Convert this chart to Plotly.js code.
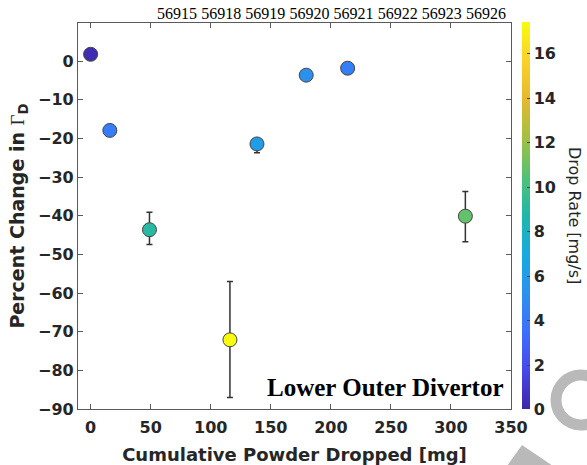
<!DOCTYPE html>
<html>
<head>
<meta charset="utf-8">
<script src="https://cdn.plot.ly/plotly-3.0.1.min.js"></script>
<style>
  html, body { margin: 0; padding: 0; background: #fff; }
  #chart { width: 587px; height: 465px; }
</style>
</head>
<body>
<div id="chart"></div>
<script>
// cumulative powder dropped [mg] and % change in Gamma_D per shot
const cumPowder = [0, 16, 49, 116, 138.5, 179.5, 214, 312];
const pctChange = [1.8, -17.9, -43.6, -72.1, -21.4, -3.6, -1.8, -40.1];
const errPlus   = [0, 0, 4.5, 15.1, 0.5, 0, 0, 6.4];
const errMinus  = [0, 0, 3.8, 14.9, 2.3, 0, 0, 6.6];
const dropRate  = [0.3, 4.2, 9, 17.4, 6, 5.2, 4.3, 10.8];
const shots = ['56915','56918','56919','56920','56921','56922','56923','56926'];

// MATLAB parula (approx.)
const PARULA = [
  [0.0, '#3e26a8'], [0.1, '#4748ea'], [0.2, '#3d6ffd'], [0.3, '#2c91ee'],
  [0.4, '#17aade'], [0.5, '#1fb7ab'], [0.6, '#52c274'], [0.7, '#a2c042'],
  [0.8, '#e4b92e'], [0.9, '#fbd12a'], [1.0, '#f9fb0e']
];

const SANS = 'DejaVu Sans, Liberation Sans, sans-serif';
const SERIF = 'Liberation Serif, Times New Roman, serif';
const FRAME = '#5a5a5a';
const TXT = '#262626';

// plot box in px, used to place the decorations
const L = 78, R = 511, T = 23, B = 409;
const px = x => (x - L) / (R - L);
const py = y => (B - y) / (B - T);

const baseAxis = {
  showline: true, linecolor: FRAME, linewidth: 1.2, mirror: 'ticks',
  ticks: 'inside', ticklen: 5, tickcolor: FRAME, tickwidth: 1,
  showgrid: false, zeroline: false,
  tickfont: { family: SANS, size: 16, color: TXT, weight: 'bold' },
};

Plotly.newPlot('chart', [{
  type: 'scatter',
  mode: 'markers',
  x: cumPowder,
  y: pctChange,
  error_y: {
    type: 'data', symmetric: false,
    array: errPlus, arrayminus: errMinus,
    color: '#333', thickness: 1.5, width: 3,
  },
  marker: {
    size: 14,
    color: dropRate,
    cmin: 0, cmax: 17.4,
    colorscale: PARULA,
    line: { color: '#444', width: 1 },
    colorbar: {
      x: px(522), xanchor: 'left', xpad: 0,
      y: 0.5, yanchor: 'middle', ypad: 0,
      len: 1.003, lenmode: 'fraction',
      thickness: 8, outlinewidth: 0,
      ticks: 'inside', ticklen: 3, tickcolor: '#444',
      tick0: 0, dtick: 2,
      tickfont: { family: SANS, size: 16, color: TXT, weight: 'bold' },
    },
  },
  showlegend: false,
  hoverinfo: 'x+y',
}, {
  // carries the shot-number axis on top
  type: 'scatter', mode: 'markers',
  x: shots.map((_, i) => i), y: shots.map(() => null),
  xaxis: 'x2', showlegend: false, hoverinfo: 'skip',
}], {
  width: 587, height: 465,
  margin: { l: L, r: 587 - R, t: T, b: 465 - B },
  paper_bgcolor: '#fff', plot_bgcolor: '#fff',
  xaxis: Object.assign({}, baseAxis, {
    range: [-10.5, 350], tick0: 0, dtick: 50, ticklabelstandoff: 4,
    title: { text: 'Cumulative Powder Dropped [mg]', standoff: 12,
      font: { family: SANS, size: 18, color: TXT, weight: 'bold' } },
  }),
  xaxis2: {
    overlaying: 'x', side: 'top', anchor: 'y',
    range: [-2.243, 7.566],
    tickvals: shots.map((_, i) => i), ticktext: shots,
    ticks: '', showline: false, showgrid: false, zeroline: false,
    tickfont: { family: SERIF, size: 16, color: '#000' },
  },
  yaxis: Object.assign({}, baseAxis, {
    range: [-90, 9.9], tick0: 0, dtick: 10,
    title: { text: 'Percent Change in <span style="font-family:Liberation Serif;font-weight:normal">Γ</span><sub>D</sub>',
      standoff: 8,
      font: { family: SANS, size: 19, color: TXT, weight: 'bold' } },
  }),
  annotations: [{
    text: '<b>Lower Outer Divertor</b>',
    xref: 'paper', yref: 'paper', x: px(506), y: py(387),
    xanchor: 'right', yanchor: 'middle', showarrow: false,
    font: { family: SERIF, size: 25, color: '#000' },
  }, {
    text: 'Drop Rate [mg/s]',
    xref: 'paper', yref: 'paper', x: px(575), y: py(215),
    xanchor: 'center', yanchor: 'middle', showarrow: false, textangle: 90,
    font: { family: SANS, size: 16, color: TXT },
  }],
  shapes: [{
    // grey logo fragment in the corner
    type: 'circle', xref: 'paper', yref: 'paper',
    x0: px(556), x1: px(606), y0: py(375), y1: py(425),
    line: { color: '#b9b9b9', width: 11 }, fillcolor: 'rgba(0,0,0,0)', layer: 'below',
  }, {
    type: 'path', xref: 'paper', yref: 'paper',
    path: `M ${px(507)} ${py(466)} L ${px(522)} ${py(445)} L ${px(553)} ${py(466)} Z`,
    fillcolor: '#b9b9b9', line: { width: 0 }, layer: 'below',
  }],
}, { displayModeBar: false });
</script>
</body>
</html>
